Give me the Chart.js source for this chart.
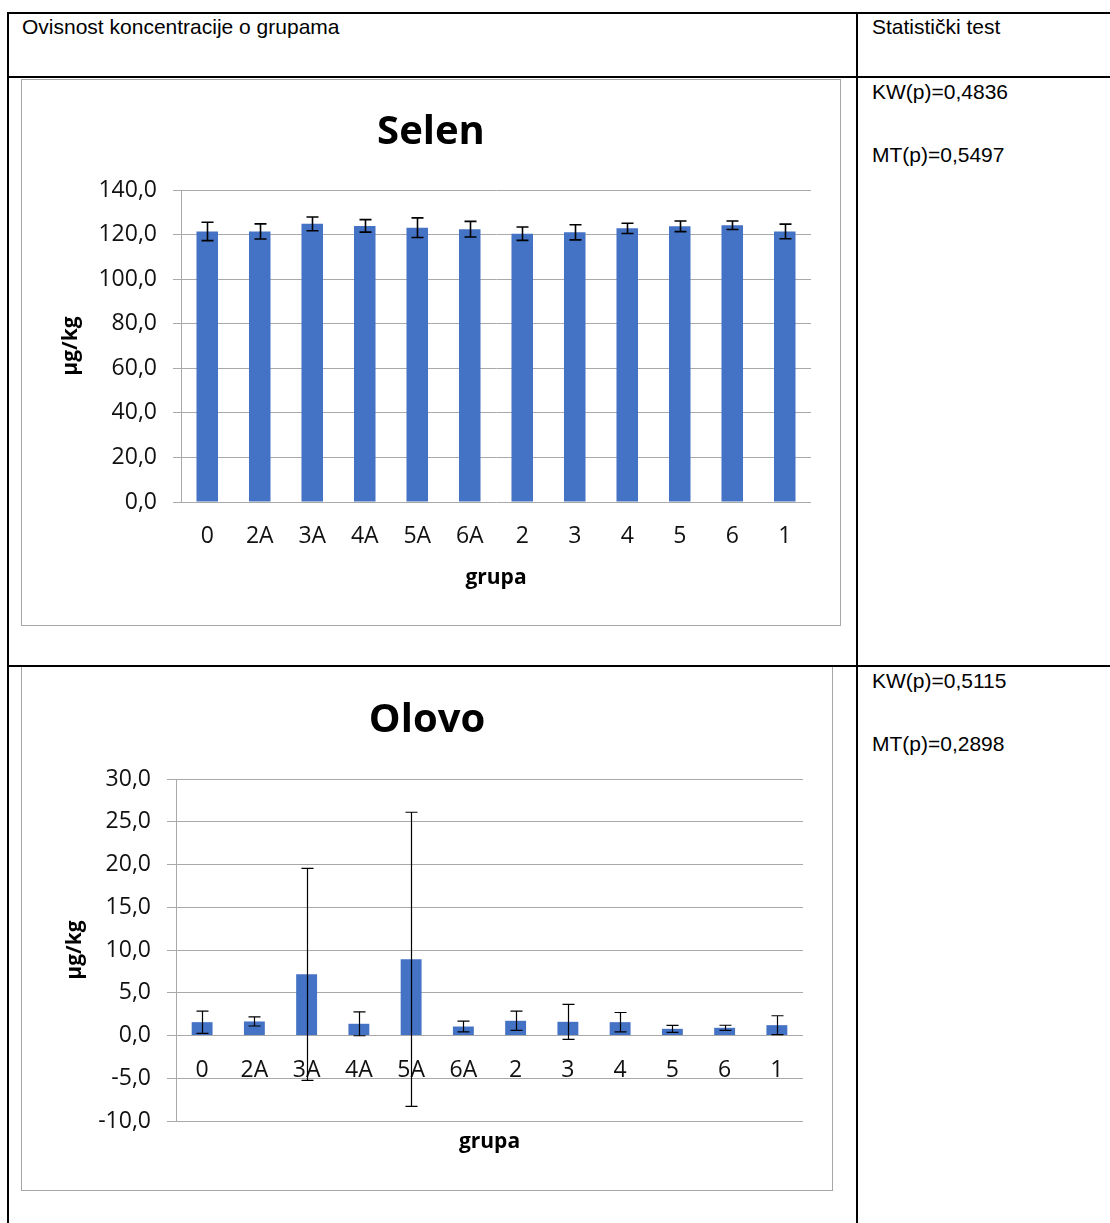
<!DOCTYPE html>
<html>
<head>
<meta charset="utf-8">
<script src="https://cdn.jsdelivr.net/npm/chart.js@4.4.1/dist/chart.umd.min.js"></script>
<style>
html,body{margin:0;padding:0;background:#fff;}
body{width:1110px;height:1223px;position:relative;overflow:hidden;font-family:"Liberation Sans",Arial,sans-serif;}
.ln{position:absolute;background:#000;z-index:5;}
.txt{position:absolute;font-size:21px;color:#000;line-height:20px;white-space:nowrap;}
.frame{position:absolute;border:1px solid #a6a6a6;box-sizing:border-box;background:#fff;}
.frame canvas{display:block;}
</style>
</head>
<body>
<div class="frame" style="left:21px;top:79px;width:820px;height:547px"><canvas id="c1" width="818" height="545"></canvas></div>
<div class="frame" style="left:21px;top:666px;width:812px;height:525px"><canvas id="c2" width="810" height="523"></canvas></div>

<div class="ln" style="left:7px;top:12px;width:1103px;height:2px"></div>
<div class="ln" style="left:7px;top:12px;width:2px;height:1211px"></div>
<div class="ln" style="left:856px;top:12px;width:2px;height:1211px"></div>
<div class="ln" style="left:7px;top:76px;width:1103px;height:2px"></div>
<div class="ln" style="left:7px;top:665px;width:1103px;height:2px"></div>

<div class="txt" style="left:22px;top:17px">Ovisnost koncentracije o grupama</div>
<div class="txt" style="left:872px;top:17px">Statistički test</div>
<div class="txt" style="left:872px;top:82px">KW(p)=0,4836</div>
<div class="txt" style="left:872px;top:145px">MT(p)=0,5497</div>
<div class="txt" style="left:872px;top:671px">KW(p)=0,5115</div>
<div class="txt" style="left:872px;top:734px">MT(p)=0,2898</div>

<script>
// ---- data ----
const categories = ['0','2A','3A','4A','5A','6A','2','3','4','5','6','1'];
const selenMean = [121.4,121.4,124.8,123.9,123.1,122.4,120.4,121.0,122.8,123.7,124.2,121.4];
const selenErr  = [4.1,3.4,3.1,2.8,4.4,3.5,3.0,3.4,2.3,2.4,1.9,3.3];
const olovoMean = [1.56,1.64,7.15,1.37,8.91,1.05,1.72,1.60,1.56,0.78,0.90,1.21];
const olovoErr  = [1.3,0.53,12.4,1.4,17.2,0.63,1.13,2.05,1.13,0.41,0.30,1.10];
const selenTitle = 'Selen';
const olovoTitle = 'Olovo';
const yTitle = 'µg/kg';
const xTitle = 'grupa';

Chart.defaults.font.family = "'Open Sans', 'Noto Sans', sans-serif";
Chart.defaults.color = '#111';
Chart.defaults.animation = false;

const BAR = '#4472C4';
const GRID = '#a9a9a9';

const fmt = v => Number(v).toFixed(1).replace('.', ',');

const errorBars = {
  id: 'errorBars',
  afterDatasetsDraw(chart) {
    const ds = chart.data.datasets[0];
    const errs = ds.errorBars;
    if (!errs) return;
    const meta = chart.getDatasetMeta(0);
    const ys = chart.scales.y;
    const ctx = chart.ctx;
    ctx.save();
    ctx.strokeStyle = '#000';
    ctx.lineWidth = ds.errorWidth || 1.3;
    meta.data.forEach((bar, i) => {
      const x = Math.round(bar.x) + 0.5;
      const t = ys.getPixelForValue(ds.data[i] + errs[i]);
      const b = ys.getPixelForValue(ds.data[i] - errs[i]);
      ctx.beginPath();
      ctx.moveTo(x, t); ctx.lineTo(x, b);
      ctx.moveTo(x - 6, t); ctx.lineTo(x + 6, t);
      ctx.moveTo(x - 6, b); ctx.lineTo(x + 6, b);
      ctx.stroke();
    });
    ctx.restore();
  }
};

function rightSpacer(w) {
  return {
    type: 'linear', position: 'right', display: true,
    ticks: {display: false}, grid: {display: false, drawTicks: false}, border: {display: false},
    afterFit: s => { s.width = w; }
  };
}

// ---- Selen ----
new Chart(document.getElementById('c1'), {
  type: 'bar',
  data: {
    labels: categories,
    datasets: [{
      data: selenMean, errorBars: selenErr, errorWidth: 1.6,
      backgroundColor: BAR, borderWidth: 0,
      categoryPercentage: 1.0, barPercentage: 0.41
    }]
  },
  plugins: [errorBars],
  options: {
    responsive: false, devicePixelRatio: 1,
    layout: {padding: {left: 0, right: 0, top: 0, bottom: 0}},
    plugins: {
      legend: {display: false}, tooltip: {enabled: false},
      title: {display: true, text: selenTitle, color: '#000',
              font: {size: 40, weight: 'bold'}, padding: {top: 29, bottom: 33}}
    },
    scales: {
      x: {
        ticks: {font: {size: 23}, padding: 21, color: '#111', maxRotation: 0, autoSkip: false},
        grid: {display: false, drawTicks: false}, border: {display: false},
        title: {display: true, text: xTitle, color: '#000', font: {size: 21, weight: 'bold'}, padding: {top: 15, bottom: 34}},
        afterFit: s => { s.height = 123; }
      },
      y: {
        min: 0, max: 140,
        ticks: {stepSize: 20, font: {size: 23}, padding: 16, color: '#111', callback: v => fmt(v)},
        grid: {color: GRID, tickLength: 8, lineWidth: 1},
        border: {display: true, color: GRID, width: 1},
        title: {display: true, text: yTitle, color: '#000', font: {size: 21, weight: 'bold'}, padding: {top: 36, bottom: 0}},
        afterFit: s => { s.width = 159; }
      },
      r: rightSpacer(29)
    }
  }
});

// ---- Olovo ----
new Chart(document.getElementById('c2'), {
  type: 'bar',
  data: {
    labels: categories,
    datasets: [{
      data: olovoMean, errorBars: olovoErr, errorWidth: 1.2,
      backgroundColor: BAR, borderWidth: 0,
      categoryPercentage: 1.0, barPercentage: 0.40
    }]
  },
  plugins: [errorBars],
  options: {
    responsive: false, devicePixelRatio: 1,
    layout: {padding: {left: 0, right: 0, top: 0, bottom: 0}},
    plugins: {
      legend: {display: false}, tooltip: {enabled: false},
      title: {display: true, text: olovoTitle, color: '#000',
              font: {size: 40, weight: 'bold'}, padding: {top: 30, bottom: 34}}
    },
    scales: {
      x: {
        ticks: {display: false},
        grid: {display: false, drawTicks: false}, border: {display: false},
        title: {display: true, text: xTitle, color: '#000', font: {size: 21, weight: 'bold'}, padding: {top: 8, bottom: 35}},
        afterFit: s => { s.height = 69; }
      },
      x2: {
        type: 'category', axis: 'x', position: {y: 0}, offset: true,
        ticks: {font: {size: 23}, padding: 21, color: '#111', maxRotation: 0, autoSkip: false},
        grid: {display: false, drawTicks: false}, border: {display: false}
      },
      y: {
        min: -10, max: 30,
        ticks: {stepSize: 5, font: {size: 23}, padding: 16, color: '#111', callback: v => fmt(v)},
        grid: {color: GRID, tickLength: 9, lineWidth: 1},
        border: {display: true, color: GRID, width: 1},
        title: {display: true, text: yTitle, color: '#000', font: {size: 21, weight: 'bold'}, padding: {top: 40, bottom: 0}},
        afterFit: s => { s.width = 154; }
      },
      r: rightSpacer(29)
    }
  }
});
</script>
</body>
</html>
